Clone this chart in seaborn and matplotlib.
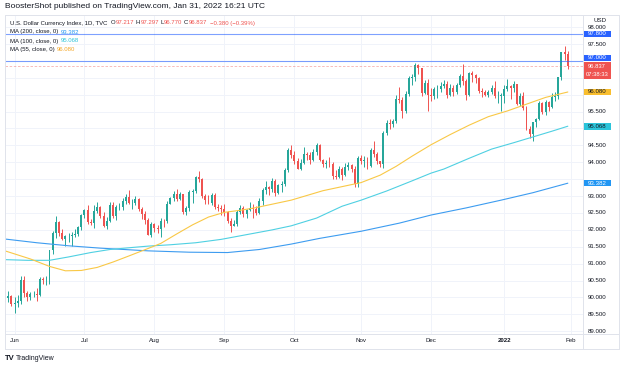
import numpy as np
import pandas as pd
import matplotlib
matplotlib.use('Agg')
import matplotlib.pyplot as plt
import seaborn as sns
from matplotlib.lines import Line2D
from matplotlib.patches import Rectangle
from matplotlib.transforms import blended_transform_factory

sns.set_style('white')
plt.rcParams['font.family'] = ['Liberation Sans', 'DejaVu Sans']

# daily candles, 27 May 2021 .. 31 Jan 2022 (weekdays)
opens = [90.05, 89.98, 90.03,
         89.82, 89.83, 89.91, 90.52, 90.13, 90.00, 90.10, 90.11, 90.08, 90.56, 90.52, 90.53, 91.40, 91.91, 92.23, 91.90, 91.72, 91.81, 91.81, 91.85, 91.88, 92.09,
         92.44, 92.58, 92.23, 92.21, 92.55, 92.68, 92.40, 92.13, 92.26, 92.73, 92.42, 92.68, 92.68, 92.86, 92.96, 92.79, 92.80, 92.90, 92.63, 92.47, 92.30, 91.86,
         92.17, 92.05, 92.04, 92.27, 92.25, 92.78, 92.93, 93.07, 92.92, 93.06, 92.53, 92.64, 93.13, 93.14, 93.56, 93.50, 93.00, 92.88, 92.81, 93.04, 92.68, 92.66,
         92.63, 92.52, 92.25, 92.13, 92.16, 92.52, 92.64, 92.47, 92.58, 92.66, 92.63, 92.49, 92.86, 93.19, 93.27, 93.22, 93.46, 93.10, 93.33, 93.37, 93.78, 94.37,
         94.23, 94.04, 93.81, 93.99, 94.26, 94.21, 94.07, 94.31, 94.51, 94.08, 93.96, 93.96, 93.95, 93.60, 93.57, 93.79, 93.63, 93.85, 93.93, 93.80, 93.37,
         94.12, 94.05, 94.07, 93.88, 94.35, 94.24, 94.03, 93.96, 94.86, 95.17, 95.12, 95.21, 95.88, 95.83, 95.53, 96.03, 96.50, 96.52, 96.87, 96.78, 96.06, 96.36,
         95.99, 95.96, 96.17, 96.18, 96.27, 96.33, 96.00, 96.19, 96.07, 96.29, 96.55, 96.42, 95.99, 96.64, 96.59, 96.48, 96.10, 96.08, 96.00, 96.08, 96.20, 95.95, 95.97,
         95.97, 96.17, 96.25, 96.19, 96.31, 95.73, 95.96, 95.62, 94.98, 94.85, 95.18, 95.28, 95.75, 95.49, 95.77, 95.64, 95.94, 95.96, 96.52, 97.26, 97.217]
highs = [90.18, 90.20, 90.07,
         90.00, 90.06, 90.63, 90.64, 90.18, 90.17, 90.19, 90.29, 90.60, 90.61, 90.64, 91.41, 91.96, 92.41, 92.27, 92.04, 91.86, 91.90, 91.95, 92.04, 92.11, 92.48,
         92.61, 92.74, 92.31, 92.74, 92.83, 92.72, 92.52, 92.39, 92.83, 92.84, 92.73, 92.80, 92.95, 93.05, 93.19, 92.92, 93.00, 92.94, 92.68, 92.57, 92.36, 92.22,
         92.20, 92.15, 92.34, 92.32, 92.86, 92.98, 93.14, 93.20, 93.12, 93.06, 92.71, 93.17, 93.21, 93.58, 93.73, 93.53, 93.06, 93.04, 93.10, 93.10, 92.78, 92.73,
         92.78, 92.56, 92.34, 92.29, 92.59, 92.74, 92.72, 92.62, 92.82, 92.76, 92.70, 92.94, 93.24, 93.45, 93.30, 93.53, 93.50, 93.37, 93.44, 93.82, 94.43, 94.50,
         94.34, 94.12, 94.09, 94.45, 94.29, 94.29, 94.38, 94.56, 94.54, 94.11, 94.08, 94.17, 94.00, 93.78, 93.88, 93.86, 93.97, 94.01, 93.95, 93.88, 94.18,
         94.21, 94.18, 94.17, 94.42, 94.63, 94.30, 94.05, 94.92, 95.26, 95.27, 95.27, 95.99, 96.23, 95.94, 96.11, 96.56, 96.62, 96.94, 96.91, 96.78, 96.44, 96.46,
         96.20, 96.23, 96.29, 96.37, 96.44, 96.40, 96.32, 96.28, 96.34, 96.60, 96.91, 96.45, 96.68, 96.69, 96.61, 96.52, 96.20, 96.13, 96.15, 96.29, 96.40, 96.11, 96.04,
         96.28, 96.46, 96.28, 96.42, 96.33, 96.06, 96.07, 95.67, 95.08, 95.20, 95.31, 95.82, 95.79, 95.85, 95.82, 96.06, 96.09, 96.53, 97.27, 97.44, 97.297]
lows = [89.86, 89.88, 89.76,
        89.53, 89.71, 89.82, 90.02, 89.90, 89.93, 90.00, 89.91, 90.04, 90.40, 90.38, 90.39, 91.30, 91.75, 91.81, 91.71, 91.51, 91.63, 91.53, 91.79, 91.81, 92.00,
        92.35, 92.16, 92.14, 92.07, 92.50, 92.34, 92.09, 92.03, 92.22, 92.34, 92.29, 92.58, 92.60, 92.78, 92.77, 92.62, 92.73, 92.56, 92.33, 92.18, 91.84, 91.78,
        91.94, 91.90, 91.78, 92.10, 92.20, 92.76, 92.86, 92.85, 92.89, 92.46, 92.45, 92.55, 92.81, 93.10, 93.43, 92.95, 92.77, 92.77, 92.75, 92.61, 92.56, 92.45,
        92.40, 92.19, 91.94, 92.11, 92.13, 92.48, 92.39, 92.34, 92.55, 92.35, 92.44, 92.47, 92.74, 93.07, 93.04, 93.11, 93.00, 93.07, 93.13, 93.30, 93.71, 94.13,
        93.95, 93.79, 93.77, 93.95, 94.07, 93.96, 94.05, 94.23, 94.03, 93.85, 93.82, 93.85, 93.51, 93.50, 93.55, 93.49, 93.60, 93.77, 93.72, 93.28, 93.28,
        93.95, 93.85, 93.81, 93.85, 94.17, 93.96, 93.87, 93.82, 94.81, 94.99, 95.05, 95.15, 95.74, 95.30, 95.46, 95.95, 96.28, 96.40, 96.62, 95.97, 96.01, 95.52,
        95.81, 95.86, 95.90, 96.07, 96.20, 95.90, 95.97, 95.95, 96.02, 96.23, 96.30, 95.85, 95.96, 96.38, 96.36, 96.05, 95.94, 95.96, 95.93, 96.01, 95.90, 95.75, 95.53,
        95.74, 96.11, 95.87, 96.07, 95.71, 95.66, 95.56, 94.96, 94.72, 94.63, 95.04, 95.24, 95.44, 95.40, 95.51, 95.62, 95.81, 95.86, 96.43, 97.03, 96.770]
closes = [89.98, 90.03, 89.82,
          89.83, 89.91, 90.52, 90.13, 90.00, 90.10, 90.11, 90.08, 90.56, 90.52, 90.53, 91.40, 91.91, 92.23, 91.90, 91.72, 91.81, 91.81, 91.85, 91.88, 92.09, 92.44,
          92.58, 92.23, 92.21, 92.55, 92.68, 92.40, 92.13, 92.26, 92.73, 92.42, 92.68, 92.68, 92.86, 92.96, 92.79, 92.80, 92.90, 92.63, 92.47, 92.30, 91.86, 92.17,
          92.05, 92.04, 92.27, 92.25, 92.78, 92.93, 93.07, 92.92, 93.06, 92.53, 92.64, 93.13, 93.14, 93.56, 93.50, 93.00, 92.88, 92.81, 93.04, 92.68, 92.66, 92.63,
          92.52, 92.25, 92.13, 92.16, 92.52, 92.64, 92.47, 92.58, 92.66, 92.63, 92.49, 92.86, 93.19, 93.27, 93.22, 93.46, 93.10, 93.33, 93.37, 93.78, 94.37, 94.23,
          94.04, 93.81, 93.99, 94.26, 94.21, 94.07, 94.31, 94.51, 94.08, 93.96, 93.96, 93.95, 93.60, 93.57, 93.79, 93.63, 93.85, 93.93, 93.80, 93.37, 94.12,
          94.05, 94.07, 93.88, 94.35, 94.24, 94.03, 93.96, 94.86, 95.17, 95.12, 95.21, 95.88, 95.83, 95.53, 96.03, 96.50, 96.52, 96.87, 96.78, 96.06, 96.36, 95.99,
          95.96, 96.17, 96.18, 96.27, 96.33, 96.00, 96.19, 96.07, 96.29, 96.55, 96.42, 95.99, 96.64, 96.59, 96.48, 96.10, 96.08, 96.00, 96.08, 96.20, 95.95, 95.97, 95.97,
          96.17, 96.25, 96.19, 96.31, 95.73, 95.96, 95.62, 94.98, 94.85, 95.18, 95.28, 95.75, 95.49, 95.77, 95.64, 95.94, 95.96, 96.52, 97.26, 97.217, 96.837]

# moving averages at some bars (bar number, value)
ma55_bar = [0, 8, 14, 19, 24, 29, 34, 39, 45, 49, 54, 59, 64, 69, 74, 79, 84, 90, 95, 100, 106, 112, 118, 123, 128, 134, 140, 146, 152, 158, 164, 170, 177]
ma55_val = [91.38, 91.14, 90.92, 90.79, 90.80, 90.89, 91.05, 91.23, 91.45, 91.60, 91.88, 92.15, 92.38, 92.52, 92.58, 92.66, 92.76, 92.88, 93.02, 93.16,
            93.28, 93.40, 93.62, 93.88, 94.18, 94.52, 94.82, 95.10, 95.35, 95.52, 95.72, 95.92, 96.08]
ma100_bar = [0, 7, 14, 20, 27, 33, 40, 45, 52, 60, 68, 76, 84, 90, 98, 106, 112, 120, 128, 134, 138, 146, 153, 160, 166, 172, 177]
ma100_val = [91.12, 91.10, 91.10, 91.20, 91.33, 91.42, 91.48, 91.52, 91.56, 91.62, 91.72, 91.86, 92.00, 92.12, 92.35, 92.70, 92.88, 93.15, 93.45, 93.68,
             93.80, 94.12, 94.39, 94.58, 94.75, 94.92, 95.068]
ma200_bar = [0, 10, 20, 30, 45, 58, 70, 80, 90, 99, 112, 124, 134, 145, 156, 166, 177]
ma200_val = [91.73, 91.62, 91.53, 91.46, 91.38, 91.34, 91.33, 91.42, 91.58, 91.75, 91.96, 92.20, 92.44, 92.65, 92.88, 93.10, 93.382]

month_labels = ['Jun', 'Jul', 'Aug', 'Sep', 'Oct', 'Nov', 'Dec', '2022', 'Feb']
price_ticks = np.arange(89.0, 98.01, 0.5)
level_lines = [97.8, 97.0]

UP, DOWN = '#26A69A', '#EF5350'
TXT = '#131722'
C55, C100, C200 = '#F9C846', '#4FD0E2', '#3D9CF0'
BOX55, BOX100, BOX200 = '#F9BE2E', '#2BC4DA', '#2196F3'
BLUE = '#2962FF'
FRAME = '#E0E3EB'

dates = pd.bdate_range('2021-05-27', '2022-01-31')
df = pd.DataFrame({'date': dates, 'open': opens, 'high': highs, 'low': lows, 'close': closes})
df['bar'] = np.arange(len(df))
df['up'] = df['close'] >= df['open']

W, H = 625, 368
fig = plt.figure(figsize=(W / 100, H / 100), dpi=100)
fx = lambda px: px / W
fy = lambda py: 1 - py / H

ax = fig.add_axes([fx(5), fy(334), (583 - 5) / W, (334 - 15) / H])
ax.set_xlim(0.01, 181.77)
ax.set_ylim(88.92, 98.358)
pxy = (98.358 - 88.92) / 319  # price per pixel

# candles
cols = np.where(df['up'], UP, DOWN)
ax.vlines(df['bar'], df['low'], df['high'], colors=cols, lw=0.7, zorder=2)
body = (df['close'] - df['open']).abs().clip(lower=0.012)
ax.bar(df['bar'], body, bottom=df[['open', 'close']].min(axis=1), width=0.62, color=cols, lw=0, zorder=2)

# moving averages
sns.lineplot(x=ma200_bar, y=ma200_val, ax=ax, color=C200, lw=0.8, zorder=3)
sns.lineplot(x=ma100_bar, y=ma100_val, ax=ax, color=C100, lw=0.8, zorder=3)
sns.lineplot(x=ma55_bar, y=ma55_val, ax=ax, color=C55, lw=0.8, zorder=3)

for lv in level_lines:
    ax.axhline(lv, color=BLUE, lw=0.8, alpha=0.6, zorder=4)
ax.axhline(closes[-1], color=DOWN, lw=0.6, ls=(0, (3, 2)), alpha=0.45, zorder=4)

# grid and time axis
month_start = [i for i in range(1, len(dates)) if dates[i].month != dates[i - 1].month] + [len(dates)]
ax.set_xticks(month_start)
ax.set_xticklabels(month_labels)
ax.set_yticks(price_ticks)
ax.set_yticklabels([])
ax.grid(True, color='#F0F3FA', lw=0.7)
ax.set_axisbelow(True)
ax.tick_params(axis='x', length=0, pad=3.2, labelsize=4.4, labelcolor=TXT)
ax.tick_params(axis='y', length=0)
for t in ax.get_xticklabels():
    if t.get_text() == '2022':
        t.set_fontweight('bold')
for s in ax.spines.values():
    s.set_visible(False)

# price scale
tr = blended_transform_factory(ax.transAxes, ax.transData)
ppx = 1 / 578
FS_SCALE = 4.4
box_h = 6.6 * pxy
boxes = [(level_lines[0], f'{level_lines[0]:.3f}', BLUE, 'white'),
         (level_lines[1] + 3.0 * pxy, f'{level_lines[1]:.3f}', BLUE, 'white'),
         (ma55_val[-1], f'{ma55_val[-1]:.3f}', BOX55, TXT),
         (ma100_val[-1], f'{ma100_val[-1]:.3f}', BOX100, TXT),
         (ma200_val[-1], f'{ma200_val[-1]:.3f}', BOX200, 'white')]
covered = [b[0] for b in boxes[1:]] + [closes[-1] - 4 * pxy, closes[-1] - 11 * pxy]
for p in price_ticks:
    if min(abs(p - c) for c in covered) < 7 * pxy:
        continue
    ax.text(1 + 5 * ppx, p, f'{p:.3f}', transform=tr, ha='left', va='center', fontsize=FS_SCALE, color=TXT, clip_on=False, zorder=5)

for y, txt, face, fg in boxes:
    ax.add_patch(Rectangle((1.0, y - box_h / 2), 28 * ppx, box_h, transform=tr, facecolor=face, lw=0, clip_on=False, zorder=6))
    ax.text(1 + 14 * ppx, y, txt, transform=tr, ha='center', va='center', fontsize=FS_SCALE, color=fg, clip_on=False, zorder=7)
# last price with bar countdown
top = closes[-1] + 4 * pxy
ax.add_patch(Rectangle((1.0, top - 16.5 * pxy), 28 * ppx, 16.5 * pxy, transform=tr, facecolor=DOWN, lw=0, clip_on=False, zorder=6))
ax.text(1 + 14 * ppx, closes[-1] + 0.3 * pxy, f'{closes[-1]:.3f}', transform=tr, ha='center', va='center', fontsize=4.2, color='white', clip_on=False, zorder=7)
ax.text(1 + 14 * ppx, closes[-1] - 8.2 * pxy, '07:38:33', transform=tr, ha='center', va='center', fontsize=4.2, color='white', clip_on=False, zorder=7)
fig.text(fx(600), fy(21), 'USD', ha='center', va='center', fontsize=FS_SCALE, color=TXT)

# frame
for (x0, y0, x1, y1) in [(5, 15, 619, 15), (5, 334, 619, 334), (5, 349, 619, 349),
                         (5, 15, 5, 349), (583, 15, 583, 349), (619, 15, 619, 349)]:
    fig.add_artist(Line2D([fx(x0), fx(x1)], [fy(y0), fy(y1)], color=FRAME, lw=0.7))

# texts
renderer = fig.canvas.get_renderer()

def text_row(x, y, parts, fs):
    for txt, color, gap in parts:
        t = fig.text(fx(x), fy(y), txt, fontsize=fs, va='center', color=color)
        x += t.get_window_extent(renderer).width + gap

fig.text(fx(5), fy(7), 'BoosterShot published on TradingView.com, Jan 31, 2022 16:21 UTC', fontsize=6.0, va='center', color=TXT)

fs = 4.3
last = df.iloc[-1]
chg = last['close'] - closes[-2]
text_row(10, 23, [('U.S. Dollar Currency Index, 1D, TVC', TXT, 3.0),
                  ('O', TXT, 0.4), (f"{last['open']:.3f}", DOWN, 1.6),
                  ('H', TXT, 0.4), (f"{last['high']:.3f}", DOWN, 1.6),
                  ('L', TXT, 0.4), (f"{last['low']:.3f}", DOWN, 1.6),
                  ('C', TXT, 0.4), (f"{last['close']:.3f}", DOWN, 2.5),
                  (f'\u2212{abs(chg):.3f} (\u2212{abs(chg) / closes[-2] * 100:.2f}%)', DOWN, 0)], fs)
text_row(10, 32, [('MA (200, close, 0)', TXT, 2.5), (f'{ma200_val[-1]:.3f}', BOX200, 0)], fs)
text_row(10, 41, [('MA (100, close, 0)', TXT, 2.5), (f'{ma100_val[-1]:.3f}', BOX100, 0)], fs)
text_row(10, 49.5, [('MA (55, close, 0)', TXT, 2.5), (f'{ma55_val[-1]:.3f}', '#F5A623', 0)], fs)

fig.text(fx(5), fy(358), 'TV', fontsize=5.5, fontweight='bold', va='center', color=TXT)
fig.text(fx(16), fy(358), 'TradingView', fontsize=5.0, va='center', color=TXT)

fig.savefig('out.png', dpi=100, facecolor='white')
